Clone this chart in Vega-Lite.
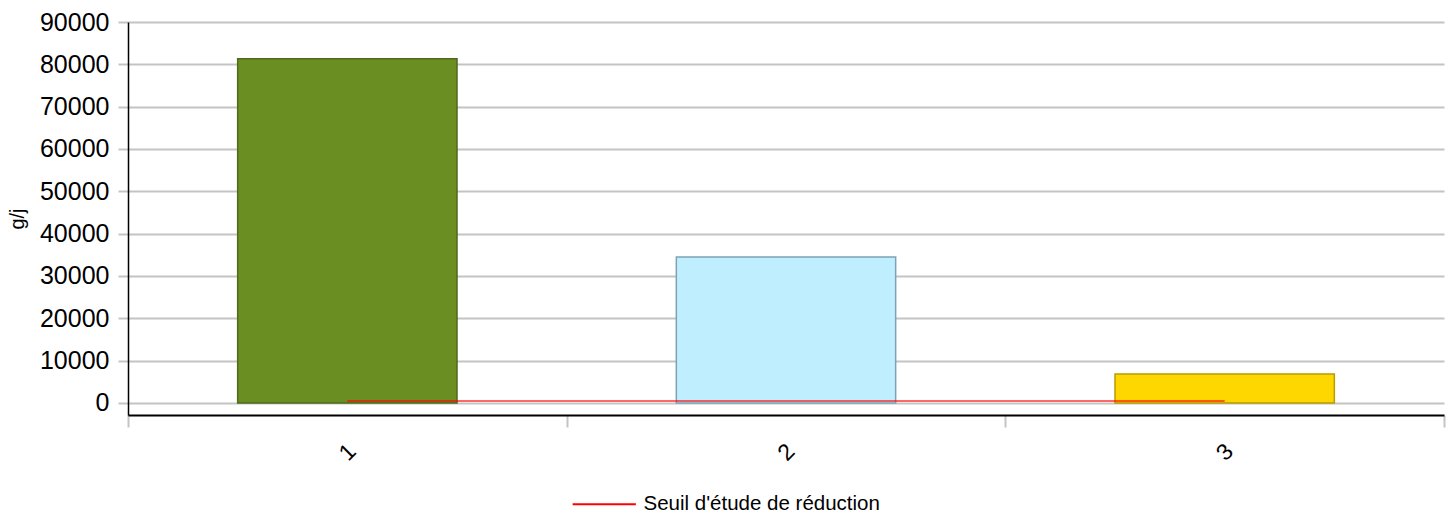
{
  "$schema": "https://vega.github.io/schema/vega-lite/v6.json",
  "autosize": "none",
  "width": 1316,
  "height": 393,
  "padding": {"left": 128, "top": 22, "right": 7, "bottom": 100},
  "background": "white",
  "config": {
    "font": "Liberation Sans",
    "view": {"stroke": null}
  },
  "data": {
    "values": [
      {"cat": "1", "value": 81300, "seuil": 500},
      {"cat": "2", "value": 34500, "seuil": 500},
      {"cat": "3", "value": 6850, "seuil": 500}
    ]
  },
  "encoding": {
    "x": {
      "field": "cat",
      "type": "nominal",
      "scale": {"paddingInner": 0, "paddingOuter": 0},
      "axis": {
        "title": null,
        "labelAngle": -45,
        "labelAlign": "center",
        "labelBaseline": "middle",
        "labelPadding": 25,
        "labelFontSize": 23,
        "labelColor": "#000000",
        "tickBand": "extent",
        "tickColor": "#c4c4c4",
        "tickWidth": 2,
        "tickSize": 12,
        "domainColor": "#000000",
        "domainWidth": 2,
        "grid": false
      }
    }
  },
  "layer": [
    {
      "mark": {"type": "bar", "strokeWidth": 1.5, "width": {"band": 0.5}},
      "encoding": {
        "y": {
          "field": "value",
          "type": "quantitative",
          "scale": {"domain": [-2835, 90000], "nice": false, "zero": false},
          "axis": {
            "title": "g/j",
            "titleFontSize": 20,
            "titleFontWeight": "normal",
            "titleColor": "#000000",
            "titlePadding": 12,
            "values": [0, 10000, 20000, 30000, 40000, 50000, 60000, 70000, 80000, 90000],
            "format": "d",
            "labelFontSize": 25,
            "labelColor": "#000000",
            "labelPadding": 9,
            "tickColor": "#c4c4c4",
            "tickWidth": 2,
            "tickSize": 10,
            "domainColor": "#000000",
            "domainWidth": 1.5,
            "grid": true,
            "gridColor": "#c4c4c4",
            "gridWidth": 2
          }
        },
        "y2": {"datum": 0},
        "fill": {
          "field": "cat",
          "type": "nominal",
          "scale": {"domain": ["1", "2", "3"], "range": ["#6b8e23", "#bfeeff", "#ffd700"]},
          "legend": null
        },
        "stroke": {
          "field": "cat",
          "type": "nominal",
          "scale": {"domain": ["1", "2", "3"], "range": ["#4f6a1a", "#7ea3b2", "#b89c00"]},
          "legend": null
        }
      }
    },
    {
      "mark": {"type": "line", "strokeWidth": 2, "strokeOpacity": 0.6},
      "encoding": {
        "y": {"field": "seuil", "type": "quantitative"},
        "color": {
          "datum": "Seuil d'étude de réduction",
          "scale": {"range": ["#ff0000"]},
          "legend": {
            "title": null,
            "orient": "none",
            "legendX": 466,
            "legendY": 472,
            "symbolType": "M-4,0H4",
            "symbolSize": 250,
            "symbolStrokeWidth": 2,
            "symbolFillColor": "transparent",
            "symbolOpacity": 1,
            "labelFontSize": 20.5,
            "labelLimit": 500,
            "labelColor": "#000000",
            "labelOffset": 29
          }
        }
      }
    }
  ]
}
